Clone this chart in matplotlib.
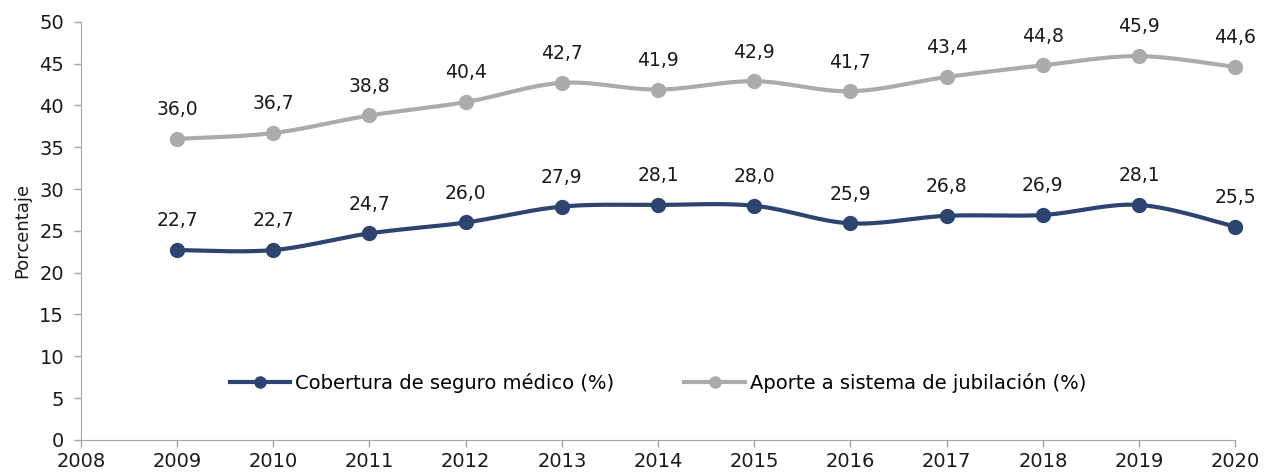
import numpy as np
import matplotlib.pyplot as plt

# -- Data ------------------------------------------------------------------
years = [2009, 2010, 2011, 2012, 2013, 2014, 2015, 2016, 2017, 2018, 2019, 2020]
seguro = [22.7, 22.7, 24.7, 26.0, 27.9, 28.1, 28.0, 25.9, 26.8, 26.9, 28.1, 25.5]
jubilacion = [36.0, 36.7, 38.8, 40.4, 42.7, 41.9, 42.9, 41.7, 43.4, 44.8, 45.9, 44.6]
label_seguro = "Cobertura de seguro médico (%)"
label_jubilacion = "Aporte a sistema de jubilación (%)"

navy = "#2E4470"
gray = "#ABABAB"


def smooth(x, y, n=30):
    """cardinal (catmull-rom) curve through the points, like excel smoothing"""
    x = np.asarray(x, float)
    y = np.asarray(y, float)
    px = np.concatenate([[x[0]], x, [x[-1]]])
    py = np.concatenate([[y[0]], y, [y[-1]]])
    xs, ys = [], []
    t = np.linspace(0, 1, n)
    for i in range(1, len(px) - 2):
        p0, p1, p2, p3 = (np.array([px[j], py[j]]) for j in range(i - 1, i + 3))
        c1 = p1 + (p2 - p0) / 6
        c2 = p2 - (p3 - p1) / 6
        pts = ((1 - t) ** 3)[:, None] * p1 + (3 * (1 - t) ** 2 * t)[:, None] * c1 \
            + (3 * (1 - t) * t ** 2)[:, None] * c2 + (t ** 3)[:, None] * p2
        xs.extend(pts[:, 0])
        ys.extend(pts[:, 1])
    return xs, ys


plt.rcParams['font.family'] = ['DejaVu Sans']

fig = plt.figure(figsize=(12.63, 4.75), dpi=100)
ax = fig.add_axes([0.064, 0.074, 0.914, 0.88])

for vals, col, lab in [(seguro, navy, label_seguro),
                       (jubilacion, gray, label_jubilacion)]:
    sx, sy = smooth(years, vals)
    ax.plot(sx, sy, color=col, lw=3, zorder=2, clip_on=False)
    ax.plot(years, vals, 'o', color=col, ms=10, zorder=3, clip_on=False)
    # legend handle
    ax.plot([], [], '-o', color=col, lw=3, ms=8, label=lab)
    for x, v in zip(years, vals):
        ax.annotate(f"{v:.1f}".replace(".", ","), (x, v), xytext=(0, 21),
                    textcoords='offset points', ha='center', va='center',
                    fontsize=13.5, color='#1a1a1a')

ax.set_xlim(2008, 2020)
ax.set_ylim(0, 50)
ax.set_xticks(range(2008, 2021))
ax.set_yticks(range(0, 51, 5))
ax.tick_params(labelsize=14, labelcolor='#1a1a1a', color='#A6A6A6',
               length=5, width=1)
ax.tick_params(axis='y', pad=7)
for s in ['top', 'right']:
    ax.spines[s].set_visible(False)
for s in ['left', 'bottom']:
    ax.spines[s].set_color('#A6A6A6')
ax.set_ylabel("Porcentaje", fontsize=13, color='#1a1a1a', labelpad=6)

ax.legend(loc='center', bbox_to_anchor=(0.5, 0.136), ncol=2, frameon=False,
          fontsize=14, handlelength=3.1, columnspacing=3.6, handletextpad=0.25)

fig.savefig("out.png", dpi=100)
